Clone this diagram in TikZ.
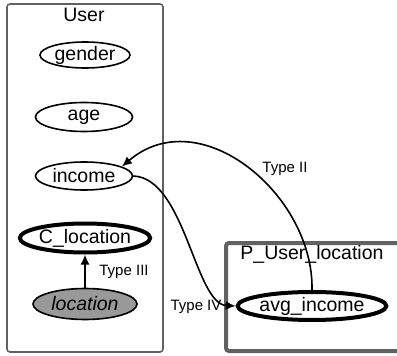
\documentclass[tikz,border=0pt]{standalone}
\usepackage{fontspec}
\setmainfont{Liberation Sans}
\usetikzlibrary{shapes.geometric, arrows.meta}

\begin{document}
\begin{tikzpicture}[x=1pt, y=-1pt,
	attr/.style={draw, ellipse, inner sep=0pt, line width=1.6pt, font=\fontsize{19.5}{19.5}\selectfont},
	keyattr/.style={attr, line width=4pt},
	entity/.style={draw=black!62, rounded corners=3pt},
	lbl/.style={font=\fontsize{15}{15}\selectfont},
	link/.style={-{Latex[length=10pt, width=9pt]}, line width=1.6pt}]
	\useasboundingbox (0, 0) rectangle (397, 356);
	
	\draw[entity, line width=1.6pt] (7, 4) rectangle (163, 352);
	\node[font=\fontsize{19.5}{19.5}\selectfont] (user) at (84, 15) {User};
	\draw[entity, line width=4pt] (226, 243) rectangle (402, 351);
	\node[font=\fontsize{19.5}{19.5}\selectfont] (puser) at (312, 254) {P\_User\_location};
	
	\node[attr, minimum width=90pt, minimum height=26pt] (gender) at (85, 55) {gender};
	\node[attr, minimum width=97pt, minimum height=29pt] (age) at (84, 117) {age};
	\node[attr, minimum width=97pt, minimum height=28pt] (income) at (84, 176) {income};
	\node[keyattr, minimum width=130pt, minimum height=29pt] (cloc) at (85, 238) {C\_location};
	\node[attr, fill=black!40, minimum width=104pt, minimum height=31pt] (loc) at (85, 304) {\itshape location};
	\node[keyattr, minimum width=128pt, minimum height=28pt] (avg) at (312, 306) {avg\_income};
	
	\draw[link] (loc) -- (cloc);
	\draw[link] (avg.north) .. controls (314, 195) and (200, 100) .. (income.14);
	\draw[link] (income.east) .. controls (185, 178) and (195, 304) .. (avg.west);
	
	\node[lbl] (t3) at (124, 272) {Type III};
	\node[lbl] (t2) at (285, 169) {Type II};
	\node[lbl] (t4) at (196, 307) {Type IV};
\end{tikzpicture}
\end{document}
